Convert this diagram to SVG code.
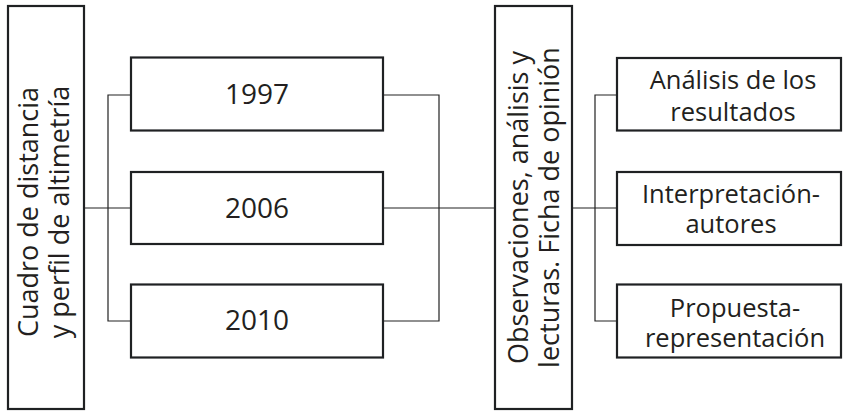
<svg xmlns="http://www.w3.org/2000/svg" width="843" height="411" viewBox="0 0 843 411">
<style>
.box{fill:#fff;stroke:#1f2123;stroke-width:2.2}
.con{fill:none;stroke:#222;stroke-width:1.2}
text{font-family:"Open Sans","Noto Sans","Liberation Sans",sans-serif;font-size:27px;fill:#231f20;text-anchor:middle}
.yr{font-size:28px}
.sm{font-size:25.5px}
</style>
<rect width="843" height="411" fill="#fff"/>
<g id="connectors">
<polyline class="con" points="131,95 108,95 108,321 131,321"/>
<line class="con" x1="85" y1="208" x2="131" y2="208"/>
<polyline class="con" points="383,95 439,95 439,321 383,321"/>
<line class="con" x1="383" y1="208" x2="495" y2="208"/>
<polyline class="con" points="617,95 595,95 595,321 617,321"/>
<line class="con" x1="572" y1="208" x2="617" y2="208"/>
</g>
<g id="n-cuadro">
<rect class="box" x="8" y="6" width="76" height="403"/>
<text transform="translate(38,212) rotate(-90)">Cuadro de distancia</text>
<text transform="translate(69,212) rotate(-90)">y perfil de altimetría</text>
</g>
<g id="n-1997">
<rect class="box" x="131" y="57.5" width="252" height="73"/>
<text class="yr" x="257" y="104">1997</text>
</g>
<g id="n-2006">
<rect class="box" x="131" y="172" width="252" height="72"/>
<text class="yr" x="257" y="217.5">2006</text>
</g>
<g id="n-2010">
<rect class="box" x="131" y="284.5" width="252" height="73"/>
<text class="yr" x="257" y="330">2010</text>
</g>
<g id="n-obs">
<rect class="box" x="495" y="6" width="77" height="403"/>
<text transform="translate(528,207.5) rotate(-90)">Observaciones, análisis y</text>
<text transform="translate(559,207.5) rotate(-90)">lecturas. Ficha de opinión</text>
</g>
<g id="n-analisis">
<rect class="box" x="617" y="58" width="224" height="72.5"/>
<text class="sm" x="733" y="89">Análisis de los</text>
<text class="sm" x="733" y="120.5">resultados</text>
</g>
<g id="n-interp">
<rect class="box" x="617" y="172" width="224" height="73"/>
<text class="sm" x="731" y="202.5">Interpretación-</text>
<text class="sm" x="731" y="233">autores</text>
</g>
<g id="n-propuesta">
<rect class="box" x="617" y="284.5" width="224" height="73"/>
<text class="sm" x="735" y="316.5">Propuesta-</text>
<text class="sm" x="735" y="347">representación</text>
</g>
</svg>
